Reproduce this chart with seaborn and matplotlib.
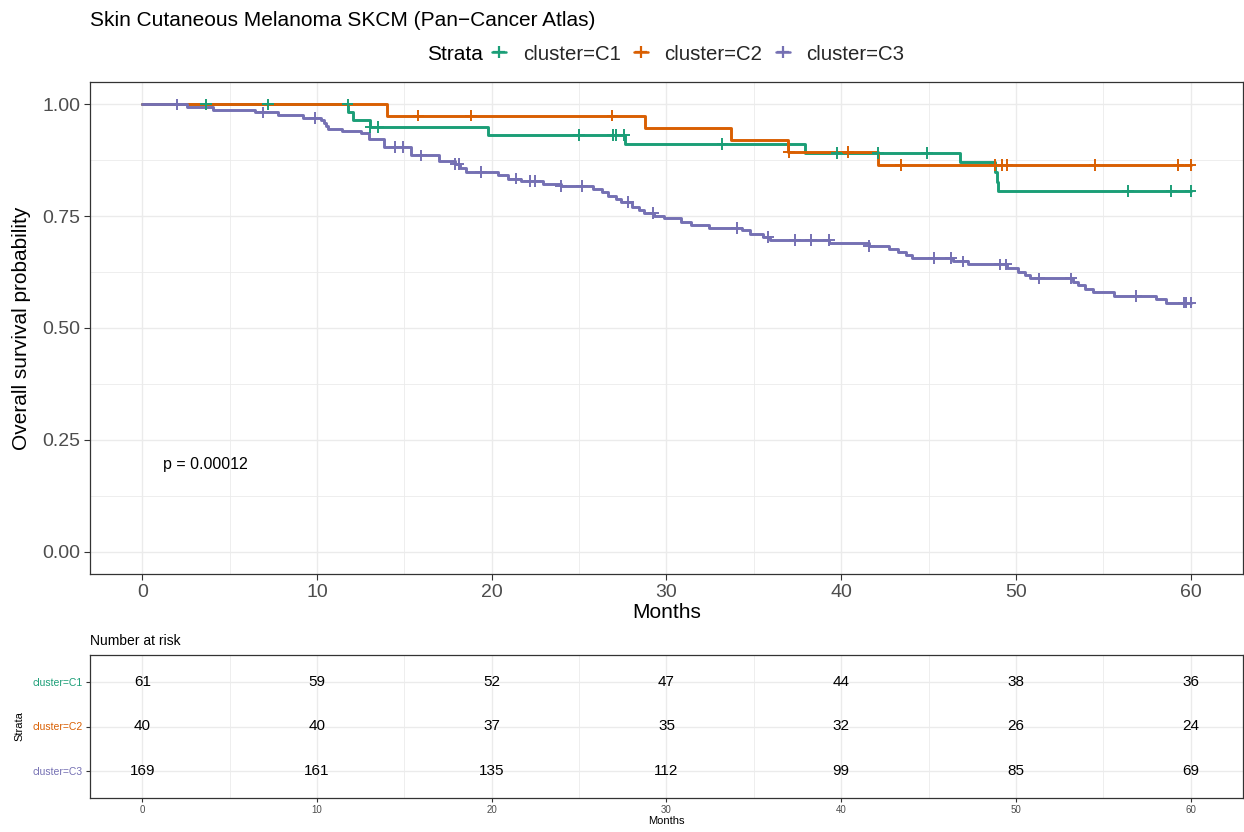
import numpy as np
import pandas as pd
import matplotlib
matplotlib.use("Agg")
import matplotlib.pyplot as plt
from matplotlib.lines import Line2D
from matplotlib.ticker import MultipleLocator
import seaborn as sns

# ---------------- data ----------------
strata = ["cluster=C1", "cluster=C2", "cluster=C3"]
colors = ["#1B9E77", "#D95F02", "#7570B3"]

c1_event_times = [11.78, 12.03, 13.0, 19.8, 27.63, 37.9, 46.8, 48.8, 48.9, 49.0]
c1_surv = [0.983, 0.966, 0.949, 0.931, 0.911, 0.891, 0.871, 0.849, 0.827, 0.806]
c1_censor = [3.65, 7.2, 11.75, 13.05, 13.5, 25.0, 26.94, 27.1, 27.57, 33.2, 39.75,
             42.09, 44.9, 56.43, 58.9, 60.0]

c2_event_times = [14.0, 28.75, 33.7, 36.95, 42.1]
c2_surv = [0.975, 0.948, 0.921, 0.894, 0.864]
c2_censor = [15.8, 18.8, 26.9, 37.0, 40.4, 43.4, 48.8, 49.2, 49.5, 54.5, 59.3, 60.0]

c3_event_times = [2.55, 4.02, 6.43, 7.79, 9.2, 10.25, 10.4, 10.5, 10.6, 11.4, 12.5,
                  12.95, 13.85, 15.35, 16.97, 17.87, 18.2, 18.5, 20.35, 20.9, 21.67,
                  22.95, 23.96, 25.8, 26.3, 26.65, 27.1, 27.4, 28.05, 28.4, 28.7,
                  29.3, 29.85, 30.85, 31.4, 32.45, 34.33, 34.8, 35.5, 35.9, 39.33,
                  41.6, 42.75, 43.27, 43.7, 44.07, 46.4, 47.27, 49.5, 50.1, 50.5,
                  50.78, 53.26, 53.55, 53.93, 54.4, 55.64, 58.0, 58.6]
c3_surv = [0.994, 0.988, 0.982, 0.976, 0.970, 0.964, 0.958, 0.951, 0.945, 0.940, 0.935,
           0.923, 0.904, 0.886, 0.873, 0.866, 0.857, 0.849, 0.842, 0.834, 0.829,
           0.823, 0.817, 0.810, 0.803, 0.795, 0.788, 0.782, 0.771, 0.764, 0.757,
           0.750, 0.745, 0.738, 0.731, 0.724, 0.718, 0.711, 0.704, 0.697, 0.690,
           0.684, 0.677, 0.670, 0.663, 0.656, 0.649, 0.642, 0.635, 0.626, 0.618,
           0.611, 0.603, 0.596, 0.588, 0.580, 0.572, 0.565, 0.557]
c3_censor = [2.0, 6.9, 9.87, 14.44, 14.9, 15.97, 17.92, 18.1, 19.38, 21.4, 22.2, 22.5,
             23.96, 25.15, 27.8, 29.25, 34.04, 35.8, 37.35, 38.26, 39.3, 41.6, 45.3,
             46.3, 46.98, 49.07, 49.45, 51.35, 53.15, 56.88, 59.6, 59.73, 60.0]

risk_times = [0, 10, 20, 30, 40, 50, 60]
risk_c1 = [61, 59, 52, 47, 44, 38, 36]
risk_c2 = [40, 40, 37, 35, 32, 26, 24]
risk_c3 = [169, 161, 135, 112, 99, 85, 69]

title = "Skin Cutaneous Melanoma SKCM (Pan\u2212Cancer Atlas)"
pval_text = "p = 0.00012"

# ---------------- build frames ----------------
events = [c1_event_times, c2_event_times, c3_event_times]
survs = [c1_surv, c2_surv, c3_surv]
censors = [c1_censor, c2_censor, c3_censor]

line_rows = []
cens_rows = []
for name, et, sv, cs in zip(strata, events, survs, censors):
    t = [0.0] + list(et) + [60.0]
    s = [1.0] + list(sv) + [sv[-1]]
    for ti, si in zip(t, s):
        line_rows.append((name, ti, si))
    et_arr = np.array(et)
    sv_arr = np.array([1.0] + list(sv))
    for c in cs:
        idx = np.searchsorted(et_arr, c, side="right")
        cens_rows.append((name, c, sv_arr[idx]))
df_line = pd.DataFrame(line_rows, columns=["strata", "time", "surv"])
df_cens = pd.DataFrame(cens_rows, columns=["strata", "time", "surv"])
palette = dict(zip(strata, colors))

# ---------------- style ----------------
sns.set_theme(style="white")
plt.rcParams["font.family"] = ["Liberation Sans", "DejaVu Sans"]
grid_c = "#EBEBEB"
border_c = "#333333"
tick_c = "#4D4D4D"

W, H = 1244, 832
fig = plt.figure(figsize=(W / 100, H / 100), dpi=100)

def fx(px):
    return px / W

def fy(py):
    return 1 - py / H

# ---------------- main KM panel ----------------
ax = fig.add_axes([fx(90), fy(574), fx(1243) - fx(90), fy(82) - fy(574)])
ax.set_axisbelow(True)
sns.lineplot(data=df_line, x="time", y="surv", hue="strata", palette=palette,
             hue_order=strata, estimator=None, sort=False, drawstyle="steps-post",
             linewidth=2.1, legend=False, ax=ax)
sns.scatterplot(data=df_cens, x="time", y="surv", hue="strata", palette=palette,
                hue_order=strata, marker="+", s=70, linewidth=1.4, legend=False,
                ax=ax, zorder=3)

ax.set_xlim(-3, 63)
ax.set_ylim(-0.05, 1.05)
ax.xaxis.set_major_locator(MultipleLocator(10))
ax.xaxis.set_minor_locator(MultipleLocator(5))
ax.set_yticks([0, 0.25, 0.5, 0.75, 1.0])
ax.set_yticklabels(["0.00", "0.25", "0.50", "0.75", "1.00"])
ax.yaxis.set_minor_locator(MultipleLocator(0.125))
ax.grid(which="major", color=grid_c, linewidth=1.0)
ax.grid(which="minor", color=grid_c, linewidth=0.6)
ax.tick_params(which="major", direction="out", length=4, width=0.8, color=border_c,
               labelsize=14, labelcolor=tick_c, pad=3, bottom=True, left=True)
ax.tick_params(which="minor", length=0)
for sp in ax.spines.values():
    sp.set_color(border_c)
    sp.set_linewidth(0.9)
ax.set_xlabel("Months", fontsize=15, color="black", labelpad=2)
ax.set_ylabel("Overall survival probability", fontsize=15, color="black", labelpad=8)
ax.text(1.2, 0.195, pval_text, fontsize=11.5, ha="left", va="center", color="black")

# ---------------- title & legend ----------------
fig.text(fx(90), fy(20), title, fontsize=15, ha="left", va="center", color="black")
fig.text(fx(427), fy(54), "Strata", fontsize=15, ha="left", va="center", color="black")
handles = [Line2D([], [], color=c, lw=1.8, marker="+", markersize=9, markeredgewidth=1.6)
           for c in colors]
fig.legend(handles, strata, loc="center left", bbox_to_anchor=(fx(492), fy(54)),
           ncol=3, frameon=False, fontsize=14.7, handlelength=0.7, handletextpad=0.8,
           columnspacing=0.65, borderaxespad=0, borderpad=0)

# ---------------- risk table ----------------
ax2 = fig.add_axes([fx(90), fy(798), fx(1243) - fx(90), fy(655) - fy(798)])
ax2.set_axisbelow(True)
ax2.set_xlim(-3, 63)
ax2.set_ylim(0.4, 3.6)
row_y = [3, 2, 1]
risk_all = [risk_c1, risk_c2, risk_c3]
for yv, vals in zip(row_y, risk_all):
    for t, n in zip(risk_times, vals):
        ax2.text(t, yv, str(n), ha="center", va="center", fontsize=11, color="black")
ax2.xaxis.set_major_locator(MultipleLocator(10))
ax2.xaxis.set_minor_locator(MultipleLocator(5))
ax2.set_yticks(row_y)
ax2.set_yticklabels(strata)
ax2.grid(which="major", color=grid_c, linewidth=1.0)
ax2.grid(which="minor", axis="x", color=grid_c, linewidth=0.6)
ax2.tick_params(which="major", direction="out", length=3, width=0.8, color=border_c,
                labelsize=7, labelcolor=tick_c, pad=2, bottom=True, left=True)
ax2.tick_params(axis="y", labelsize=7.5)
ax2.tick_params(which="minor", length=0)
for lbl, c in zip(ax2.get_yticklabels(), colors):
    lbl.set_color(c)
for sp in ax2.spines.values():
    sp.set_color(border_c)
    sp.set_linewidth(0.9)
ax2.set_xlabel("Months", fontsize=8, color="black", labelpad=1)
ax2.set_ylabel("Strata", fontsize=8, color="black", labelpad=6)
fig.text(fx(90), fy(641), "Number at risk", fontsize=10, ha="left", va="center",
         color="black")

fig.savefig("out.png", dpi=100)
